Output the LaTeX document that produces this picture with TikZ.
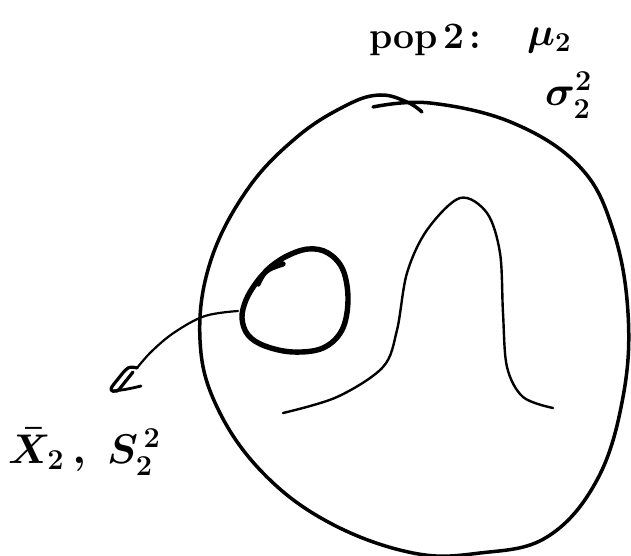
\documentclass[tikz,border=0pt]{standalone}
\usepackage{graphicx}
\usepackage{amsmath}
\begin{document}
\begin{tikzpicture}[x=1pt,y=-1pt,
  pen/.style={line width=3.5pt,line cap=round,line join=round},
  thin pen/.style={line width=2.4pt,line cap=round,line join=round},
  thick pen/.style={line width=5.4pt,line cap=round,line join=round},
  lbl/.style={inner sep=0pt,font=\boldmath\bfseries\fontsize{20.74}{24}\selectfont}]
\useasboundingbox (0,0) rectangle (631,556);
% population (big closed curve)
\draw[pen] plot[smooth,tension=0.65] coordinates {
 (373,107) (430,103) (513,123) (580,167) (613,230) (628,313) (623,397)
 (597,480) (547,537) (480,553) (413,553) (330,523) (263,473) (217,407)
 (200,340) (210,263) (247,190) (297,137) (347,105) (380,95) (407,102) (422,112)};
% bell curve
\draw[thin pen] plot[smooth,tension=0.55] coordinates {
 (283,413) (337,397) (383,367) (397,330) (407,273) (427,230) (460,198)
 (487,213) (500,253) (503,313) (507,367) (523,397) (553,408)};
% sample (thick loop)
\draw[thick pen] plot[smooth,tension=0.6] coordinates {
 (283,264) (268,270) (256,283) (246,300) (242,318) (248,335) (265,346)
 (293,352) (323,348) (342,330) (348,300) (343,270) (328,253) (308,249)
 (285,257) (266,271) (258,284)};
% connector from sample to label
\coordinate (s) at (238,311);
\coordinate (t) at (137,368);
\draw[thin pen,line width=2.2pt] plot[smooth,tension=0.6] coordinates {(s) (205,316) (175,332) (152,351) (t)};
\draw[thin pen,line width=3.2pt] plot[smooth,tension=0.6] coordinates {
 (t) (128,368) (118,379) (111,389) (117,391) (125,382) (133,372)};
\draw[thin pen,line width=2.8pt] (113,391) .. controls (124,390) and (133,388) .. (141,386);
% labels
\node[lbl,anchor=base west] (pop) at (369,49) {\scalebox{1.8}{pop\hspace{3pt}2\hspace{3pt}:}};
\node[lbl,anchor=base west] (mu) at (527,46) {\scalebox{1.9}{$\mu_{2}$}};
\node[lbl,anchor=base west] (sig) at (545,106) {\scalebox{2}{$\sigma_{2}^{2}$}};
\node[lbl,anchor=base west] (xs) at (8,463) {\scalebox{2}{$\bar{X}_2\,,\; S_2^{\,2}$}};
\end{tikzpicture}
\end{document}
